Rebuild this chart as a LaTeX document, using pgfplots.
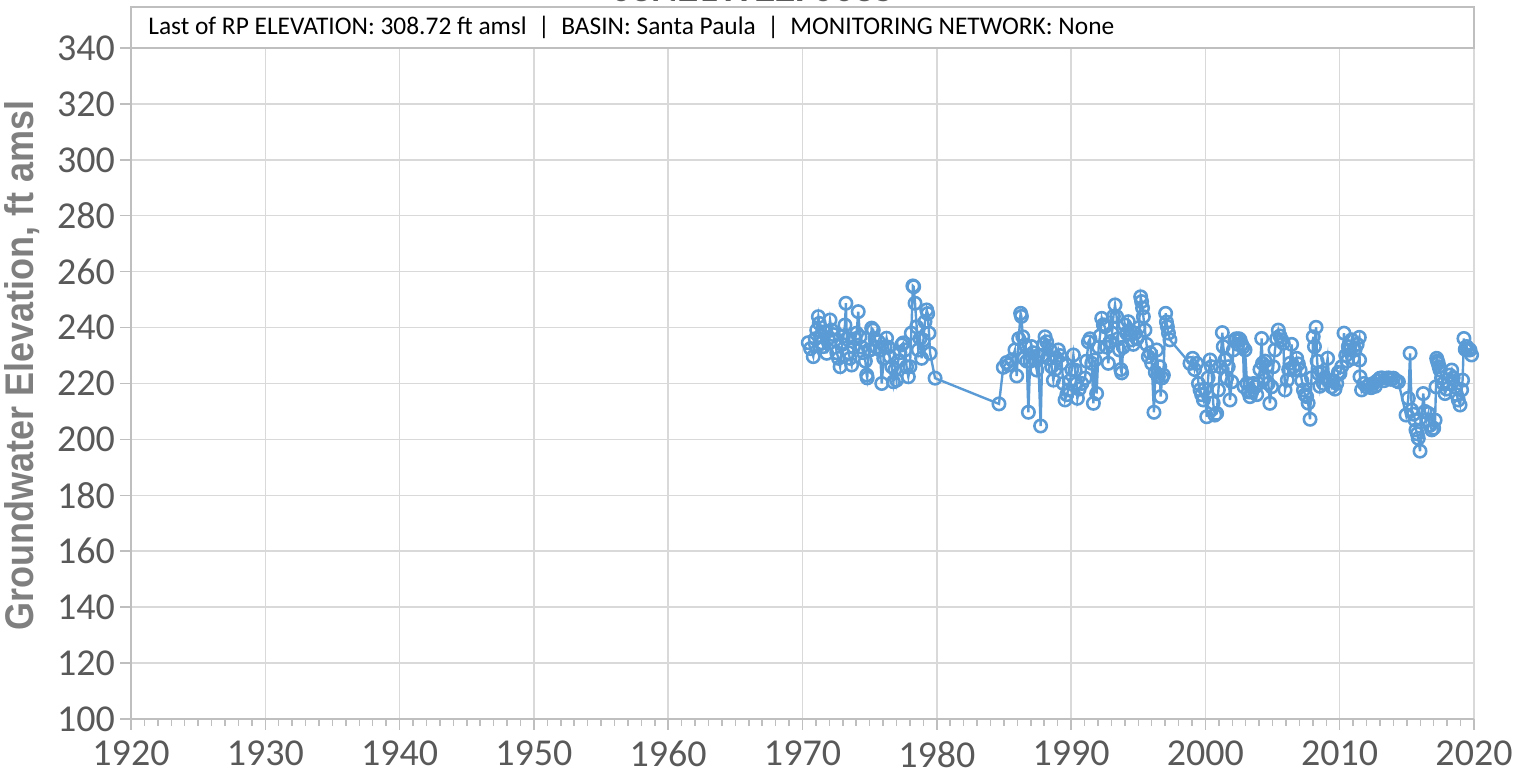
\documentclass[border=0pt]{standalone}
\usepackage{fontspec}
\setmainfont{Carlito}
\newfontfamily\narrowbold[FakeStretch=0.9]{Liberation Sans}
\usepackage{pgfplots}
\usepackage{pgfplotstable}
\pgfplotsset{compat=1.18}
\definecolor{series}{HTML}{5B9BD5}
\definecolor{gridc}{HTML}{D9D9D9}
\definecolor{axc}{HTML}{BFBFBF}
\definecolor{tickc}{HTML}{595959}
\definecolor{labc}{HTML}{7F7F7F}
\pgfplotstableread{
year value
1970.43 234.6
1970.6 232.5
1970.8 229.6
1970.95 236
1971.06 239.1
1971.18 243.9
1971.25 241.5
1971.35 237
1971.45 234.5
1971.55 233.2
1971.65 238.5
1971.8 230.8
1971.9 236
1972.05 242.7
1972.17 239.1
1972.3 237.5
1972.42 235.6
1972.55 231
1972.68 229
1972.8 226
1972.95 234
1973.05 237
1973.16 240.9
1973.23 248.7
1973.3 236
1973.42 231
1973.53 229
1973.66 226.6
1973.8 233
1973.92 236
1974.03 238
1974.15 245.7
1974.28 236.7
1974.4 233
1974.55 231
1974.68 228
1974.78 223
1974.82 222
1974.95 232
1975.03 232
1975.15 239.8
1975.27 239.1
1975.4 236
1975.5 233
1975.65 235
1975.77 232
1975.9 220
1976.05 229
1976.15 233
1976.26 236.2
1976.38 233
1976.5 229.6
1976.65 226
1976.77 220.6
1976.88 225
1977.0 221.2
1977.12 228
1977.25 231
1977.38 233.8
1977.5 234.5
1977.63 232
1977.75 226
1977.88 222.4
1978.0 226
1978.1 238
1978.22 254.9
1978.28 254.6
1978.38 248.7
1978.5 240.3
1978.62 232
1978.75 236
1978.87 229
1979.0 235.5
1979.12 242.1
1979.25 246.3
1979.32 245
1979.42 238
1979.5 230.8
1979.87 221.9
1984.63 212.7
1984.95 225.8
1985.2 227.5
1985.33 226.6
1985.6 228.5
1985.82 232
1985.95 222.7
1986.1 236
1986.24 245.1
1986.3 244
1986.4 236.7
1986.5 229
1986.57 233.8
1986.7 228
1986.82 209.7
1986.95 228
1987.06 233.2
1987.18 231
1987.31 228.4
1987.44 224.8
1987.55 230
1987.73 204.8
1987.85 230
1987.95 234
1988.06 236.7
1988.18 234.9
1988.3 229
1988.43 232
1988.55 226
1988.68 221.2
1988.8 225
1988.92 229
1989.05 232
1989.18 230
1989.3 227.2
1989.42 220
1989.55 214.1
1989.68 216
1989.8 217.7
1989.92 221
1990.05 225
1990.17 230.2
1990.3 224.8
1990.4 220
1990.47 214.7
1990.6 218
1990.8 220
1991.04 221.9
1991.15 228
1991.29 234.9
1991.4 236
1991.54 227.2
1991.66 212.9
1991.78 228.4
1991.9 216.4
1992.05 233
1992.15 237
1992.28 243.3
1992.4 241
1992.52 240.3
1992.65 233
1992.77 227.2
1992.9 235
1993.05 238
1993.15 244
1993.27 248.1
1993.39 243.9
1993.5 236
1993.6 232
1993.7 225
1993.76 223.8
1993.88 233
1994.01 240.9
1994.13 238
1994.26 242.1
1994.38 239
1994.5 235.6
1994.63 234
1994.76 238
1994.9 236
1995.05 240
1995.18 251
1995.25 249.3
1995.32 247
1995.38 243.9
1995.5 239.1
1995.62 234
1995.75 229.6
1995.88 231
1996.0 227.2
1996.17 209.7
1996.27 224
1996.37 232
1996.5 222.4
1996.6 226
1996.67 215.3
1996.77 222
1996.87 223
1997.04 245.1
1997.1 242
1997.17 240.3
1997.25 238
1997.36 235.6
1998.85 227.2
1999.05 229
1999.2 225
1999.35 227.2
1999.48 220
1999.6 217.7
1999.72 216
1999.85 214.1
1999.95 218
2000.1 208.1
2000.2 222
2000.35 228.4
2000.45 226
2000.58 213
2000.7 208.7
2000.84 209.3
2000.97 217.7
2001.1 226
2001.26 238.2
2001.33 233.2
2001.46 228.4
2001.58 222
2001.7 226
2001.83 214.1
2001.96 220.6
2002.08 232
2002.2 235.6
2002.3 236
2002.42 234
2002.5 236
2002.58 235.6
2002.7 234
2002.8 233
2002.88 218.8
2002.95 232
2003.1 220
2003.2 217
2003.32 215.3
2003.45 217
2003.58 220
2003.7 218.8
2003.82 216
2003.94 220
2004.06 225
2004.19 236.1
2004.25 227.2
2004.35 222
2004.45 228
2004.56 226
2004.68 220
2004.8 212.9
2004.93 218.8
2005.05 226
2005.18 232
2005.3 236
2005.43 239.1
2005.55 237
2005.68 235.6
2005.8 234.4
2005.93 217.7
2006.1 221.2
2006.2 225
2006.3 227.2
2006.42 234
2006.55 226
2006.68 225
2006.8 229
2006.92 227
2007.05 224.8
2007.18 221
2007.3 217.7
2007.42 216
2007.54 215.3
2007.65 213
2007.79 207.2
2007.9 222
2008.03 236.7
2008.12 233.2
2008.24 240.1
2008.32 228
2008.41 223.6
2008.52 219
2008.65 224
2008.78 220
2008.9 222
2009.1 229
2009.22 221
2009.4 218.8
2009.52 221
2009.65 218
2009.78 220
2009.9 224
2010.02 223.6
2010.15 226
2010.32 238
2010.45 230
2010.55 228
2010.64 233.2
2010.75 232
2010.89 235.6
2011.0 229
2011.14 232
2011.3 234
2011.46 236.5
2011.48 228.4
2011.51 222.4
2011.63 217.7
2011.8 220
2012.0 218.8
2012.2 219.5
2012.35 218.5
2012.5 220
2012.65 219
2012.8 221
2013.0 221.9
2013.15 222
2013.3 221
2013.5 221.9
2013.65 222
2013.8 221.5
2014.0 221.9
2014.2 221
2014.37 220.6
2014.94 208.7
2015.11 214.7
2015.24 230.8
2015.36 210.5
2015.5 209
2015.61 206.9
2015.68 203.4
2015.78 202
2015.85 200.4
2015.98 195.8
2016.22 216.4
2016.35 210
2016.48 207
2016.6 209.3
2016.72 205
2016.85 203.4
2017.0 204
2017.1 206.9
2017.17 218.8
2017.22 229
2017.28 228
2017.34 227.2
2017.4 226
2017.47 224.8
2017.58 222
2017.7 220
2017.84 216.4
2017.95 218
2018.09 220
2018.2 223
2018.34 224.8
2018.45 222
2018.58 218.8
2018.7 216
2018.83 214.1
2018.96 212.3
2019.08 217.7
2019.15 221.2
2019.25 236.1
2019.35 232.2
2019.45 233.2
2019.55 232
2019.7 232
2019.82 230.2
}\wells

\begin{document}
\begin{tikzpicture}
\begin{axis}[
  name=ax,
  scale only axis, width=671.5pt, height=335.5pt,
  xmin=1920, xmax=2020, ymin=100, ymax=340,
  xtick={1920,1930,...,2020}, ytick={100,120,...,340},
  minor x tick num=9,
  axis lines*=left,
  grid=major, major grid style={gridc, line width=0.75pt},
  axis line style={axc, line width=0.75pt},
  tick align=outside, major tick length=5.5pt, minor tick length=3.5pt,
  every tick/.style={axc, line width=0.75pt},
  /pgf/number format/1000 sep={},
  /pgf/number format/assume math mode=true,
  tick label style={font=\fontsize{19}{22}\selectfont, text=tickc},
  xticklabel style={yshift=-2pt},
  yticklabel style={xshift=1pt},
  clip=false,
]
\addplot[series, line width=1.2pt, mark=o, mark size=3.1pt, mark options={line width=1.3pt}] table[x=year, y=value] {\wells};
\end{axis}
\draw[axc, line width=0.75pt, fill=white] (ax.north west) rectangle ([yshift=20.5pt]ax.north east);
\node[anchor=west, inner sep=0pt, font=\fontsize{12.7}{15}\selectfont] at ([xshift=8.5pt,yshift=10.25pt]ax.north west) {Last of RP ELEVATION: 308.72 ft amsl~~|~~BASIN: Santa Paula~~|~~MONITORING NETWORK: None};
\node[anchor=base, inner sep=0pt, font=\bfseries\fontsize{20}{24}\selectfont, text=tickc] at ([xshift=-25pt,yshift=23.2pt]ax.north) {03N21W22F003S};
\node[rotate=90, inner sep=0pt, font=\narrowbold\bfseries\fontsize{20}{24}\selectfont, text=labc] at ([xshift=-54.5pt,yshift=9pt]ax.west) {Groundwater Elevation, ft amsl};
\pgfresetboundingbox
\path[use as bounding box] ([xshift=-65.5pt,yshift=-30pt]ax.south west) rectangle ([xshift=26.5pt,yshift=24pt]ax.north east);
\end{tikzpicture}
\end{document}
